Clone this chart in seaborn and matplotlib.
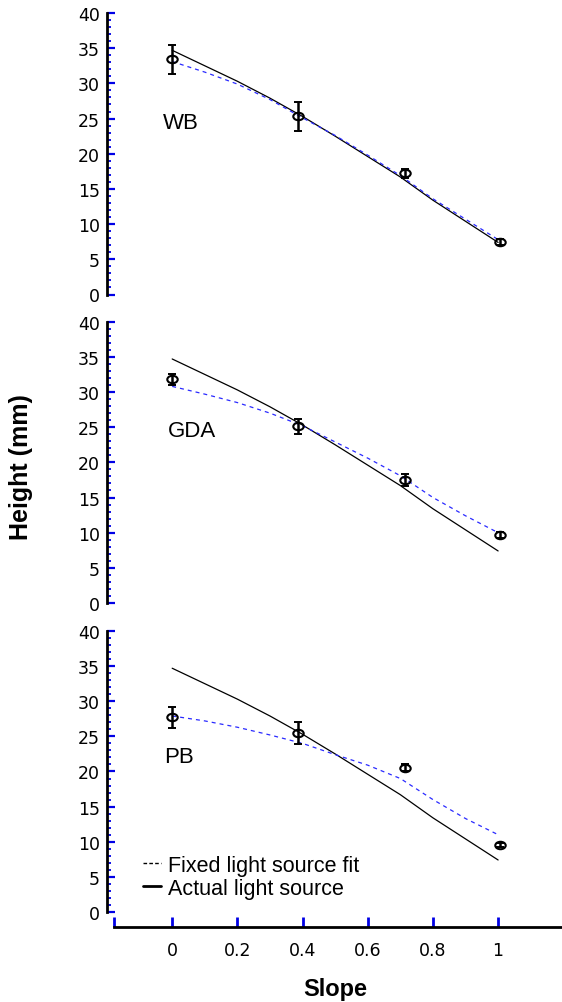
import numpy as np
import pandas as pd
import matplotlib
matplotlib.use("Agg")
import matplotlib.pyplot as plt
import seaborn as sns
from matplotlib.path import Path
from matplotlib.transforms import Affine2D
from matplotlib.lines import Line2D
from matplotlib.ticker import FixedLocator

# ---------------- data ----------------
panels = ["WB", "GDA", "PB"]
slope_pts = [0.0, 0.387, 0.715, 1.006]
WB_mean = [33.4, 25.3, 17.2, 7.5]
WB_err = [2.0, 2.1, 0.6, 0.4]
GDA_mean = [31.8, 25.1, 17.5, 9.7]
GDA_err = [0.8, 1.1, 0.9, 0.4]
PB_mean = [27.7, 25.5, 20.5, 9.5]
PB_err = [1.5, 1.6, 0.5, 0.3]

curve_x = [0.0, 0.1, 0.2, 0.3, 0.4, 0.5, 0.6, 0.7, 0.8, 0.9, 1.0]
actual_light = [34.7, 32.5, 30.3, 27.9, 25.3, 22.5, 19.6, 16.7, 13.4, 10.4, 7.4]
WB_fixed = [33.1, 31.6, 29.9, 27.7, 25.1, 22.6, 19.8, 16.9, 13.6, 10.7, 7.8]
GDA_fixed = [30.8, 29.7, 28.5, 27.0, 25.2, 22.9, 20.6, 18.1, 15.0, 12.4, 10.0]
PB_fixed = [27.9, 27.2, 26.3, 25.2, 24.0, 22.4, 20.9, 19.0, 16.0, 13.3, 11.0]

x_ticks = [0, 0.2, 0.4, 0.6, 0.8, 1]
x_ticklabels = ["0", "0.2", "0.4", "0.6", "0.8", "1"]
y_ticks = [0, 5, 10, 15, 20, 25, 30, 35, 40]
y_minor = list(range(0, 41))
legend_labels = ["Fixed light source fit", "Actual light source"]

means = {"WB": WB_mean, "GDA": GDA_mean, "PB": PB_mean}
errs = {"WB": WB_err, "GDA": GDA_err, "PB": PB_err}
fixed = {"WB": WB_fixed, "GDA": GDA_fixed, "PB": PB_fixed}

# ---------------- style ----------------
sns.set_style("white")
plt.rcParams["font.family"] = ["DejaVu Sans"]
plt.rcParams["text.color"] = "black"
plt.rcParams["axes.labelcolor"] = "black"
plt.rcParams["xtick.color"] = "black"
plt.rcParams["ytick.color"] = "black"

W, H = 562, 1003
fig = plt.figure(figsize=(W / 100, H / 100), dpi=100)

def fx(px):
    return px / W

def fy(py):
    return 1 - py / H

left_px = 107
boxes = [(14, 295.5), (322.7, 604), (632, 928)]
ylims = [(0, 40), (0, 40), (-2.14, 40)]
label_pos = {"WB": (-0.028, 24.4), "GDA": (-0.012, 24.5), "PB": (-0.025, 22.1)}

ell = Path.unit_circle().transformed(Affine2D().scale(1.4, 1.0))
blue = "#0000e6"
sans = ["Liberation Sans", "DejaVu Sans"]

for i, name in enumerate(panels):
    top, bot = boxes[i]
    ax = fig.add_axes([fx(left_px), fy(bot), 1 - fx(left_px), (bot - top) / H])
    ax.set_facecolor("none")

    df_act = pd.DataFrame({"x": curve_x, "y": actual_light})
    df_fix = pd.DataFrame({"x": curve_x, "y": fixed[name]})
    sns.lineplot(data=df_act, x="x", y="y", ax=ax, color="black", lw=0.9,
                 estimator=None, sort=False)
    sns.lineplot(data=df_fix, x="x", y="y", ax=ax, color="#2a2aff", lw=0.9,
                 estimator=None, sort=False, dashes=False,
                 linestyle=(0, (3.2, 3.2)))
    ax.errorbar(slope_pts, means[name], yerr=errs[name], fmt="none",
                ecolor="black", elinewidth=1.8, capsize=3.2, capthick=1.4,
                zorder=4)
    ax.plot(slope_pts, means[name], linestyle="none", marker=ell, ms=7.5,
            mfc="none", mec="black", mew=1.5, zorder=5)

    ax.text(label_pos[name][0], label_pos[name][1], name, ha="left",
            va="center", fontsize=16, color="black", family=sans)

    ax.set_xlim(-0.2, 1.196)
    ax.set_ylim(*ylims[i])
    ax.set_xlabel("")
    ax.set_ylabel("")

    for s in ["top", "right"]:
        ax.spines[s].set_visible(False)
    ax.spines["left"].set_color("black")
    ax.spines["left"].set_linewidth(2)
    ax.spines["left"].set_bounds(0, 40)

    ax.set_yticks(y_ticks)
    ax.set_yticklabels([str(v) for v in y_ticks])
    ax.yaxis.set_minor_locator(FixedLocator(y_minor))
    ax.tick_params(axis="y", which="major", direction="in", length=6,
                   width=1.6, color=blue, labelsize=12.5, pad=5,
                   labelcolor="black", left=True)
    ax.tick_params(axis="y", which="minor", direction="in", length=3,
                   width=1.3, color=blue, left=True)

    if i < 2:
        ax.spines["bottom"].set_visible(False)
        ax.set_xticks([])
        ax.tick_params(axis="x", which="both", bottom=False, labelbottom=False)
    else:
        ax.spines["bottom"].set_color("black")
        ax.spines["bottom"].set_linewidth(2)
        ax.spines["bottom"].set_bounds(-0.18, 1.196)
        ax.set_xticks(x_ticks)
        ax.set_xticklabels(x_ticklabels)
        ax.set_xticks([-0.18], minor=True)
        ax.tick_params(axis="x", which="both", direction="in", length=7,
                       width=2, color=blue, labelsize=12.5, pad=10,
                       labelcolor="black", bottom=True)
        handles = [
            Line2D([], [], color="black", lw=1.0, linestyle=(0, (2.6, 1.6))),
            Line2D([], [], color="black", lw=2.0),
        ]
        leg = ax.legend(handles, legend_labels, loc="lower left",
                        bbox_to_anchor=(0.079, 0.095), frameon=False,
                        borderpad=0, borderaxespad=0, handlelength=0.85,
                        handletextpad=0.3, labelspacing=0.1,
                        prop={"family": sans, "size": 15.5})
        for t in leg.get_texts():
            t.set_color("black")

fig.text(fx(335), fy(990), "Slope", ha="center", va="center", fontsize=17,
         fontweight="bold", color="black", family=sans)
fig.text(fx(21), fy(467), "Height (mm)", ha="center", va="center",
         fontsize=18, fontweight="bold", rotation=90, color="black",
         family=sans)

fig.savefig("out.png", dpi=100)
